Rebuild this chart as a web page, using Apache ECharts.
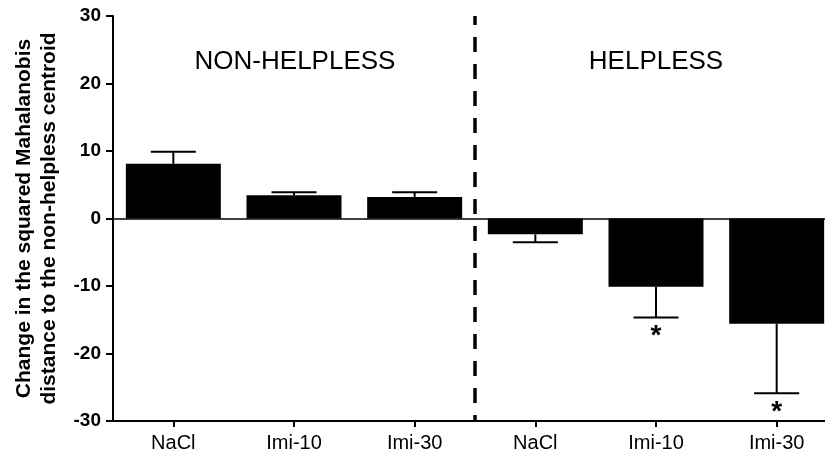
<!DOCTYPE html>
<html>
<head>
<meta charset="utf-8">
<script src="https://cdn.jsdelivr.net/npm/echarts@6/dist/echarts.min.js"></script>
<style>
html,body{margin:0;padding:0;background:#fff;}
#chart{width:825px;height:457px;}
</style>
</head>
<body>
<div id="chart"></div>
<script>
// ---- data ----
var categories = ['NaCl', 'Imi-10', 'Imi-30', 'NaCl', 'Imi-10', 'Imi-30'];
var groups = ['NON-HELPLESS', 'HELPLESS'];
var means = [8.1, 3.45, 3.2, -2.35, -10.1, -15.6];
var errEnds = [9.9, 3.9, 3.9, -3.5, -14.65, -25.9];
var significant = [false, false, false, false, true, true];
var yTicks = [-30, -20, -10, 0, 10, 20, 30];
var dividerX = 3; // boundary between the two groups, in category units

var chart = echarts.init(document.getElementById('chart'));
var FONT = 'Liberation Sans, Arial, Helvetica, sans-serif';

var errData = means.map(function (m, i) { return [i, m, errEnds[i], significant[i] ? 1 : 0]; });

chart.setOption({
  animation: false,
  backgroundColor: '#ffffff',
  grid: { left: 113, width: 724, top: 16, height: 405, containLabel: false, outerBoundsMode: 'none' },
  xAxis: [{
    type: 'category',
    data: categories,
    position: 'bottom',
    axisLine: { show: true, onZero: false, lineStyle: { color: '#000', width: 2 } },
    axisTick: { show: true, alignWithLabel: true, length: 6, lineStyle: { color: '#000', width: 2 } },
    axisLabel: { color: '#000', fontFamily: FONT, fontSize: 20, margin: 12 },
    splitLine: { show: false }
  }, {
    type: 'value',
    min: 0, max: 6,
    show: false
  }],
  yAxis: {
    type: 'value',
    min: yTicks[0], max: yTicks[yTicks.length - 1], interval: 10,
    name: 'Change in the squared Mahalanobis\ndistance to the non-helpless centroid',
    nameLocation: 'middle',
    nameGap: 51,
    nameTextStyle: { color: '#000', fontFamily: FONT, fontSize: 21, fontWeight: 'bold', lineHeight: 25 },
    axisLine: { show: true, lineStyle: { color: '#000', width: 2 } },
    axisTick: { show: true, length: 7, lineStyle: { color: '#000', width: 2 } },
    axisLabel: { color: '#000', fontFamily: FONT, fontSize: 19, fontWeight: 'bold', margin: 12 },
    splitLine: { show: false }
  },
  series: [{
    type: 'bar',
    data: means,
    barWidth: 95,
    itemStyle: { color: '#000' },
    silent: true,
    markLine: {
      silent: true,
      symbol: ['none', 'none'],
      label: { show: false },
      lineStyle: { color: '#000', width: 1.5, type: 'solid' },
      data: [{ yAxis: 0 }]
    }
  }, {
    type: 'custom',
    data: errData,
    silent: true,
    z: 5,
    renderItem: function (params, api) {
      var idx = api.value(0);
      var p0 = api.coord([idx, api.value(1)]);
      var p1 = api.coord([idx, api.value(2)]);
      var half = 22.5;
      var children = [{
        type: 'line',
        shape: { x1: p0[0], y1: p0[1], x2: p1[0], y2: p1[1] },
        style: { stroke: '#000', lineWidth: 2 }
      }, {
        type: 'line',
        shape: { x1: p1[0] - half, y1: p1[1], x2: p1[0] + half, y2: p1[1] },
        style: { stroke: '#000', lineWidth: 2 }
      }];
      if (api.value(3) === 1) {
        children.push({
          type: 'text',
          style: {
            text: '*', x: p1[0], y: p1[1] + 5,
            fill: '#000', font: 'bold 28px ' + FONT,
            align: 'center', verticalAlign: 'top'
          }
        });
      }
      return { type: 'group', children: children };
    }
  }, {
    type: 'line',
    xAxisIndex: 1,
    data: [[dividerX, yTicks[yTicks.length - 1]], [dividerX, yTicks[0]]],
    symbol: 'none',
    silent: true,
    lineStyle: { color: '#000', width: 3.5, type: [15, 12], dashOffset: 6 },
    z: 6
  }],
  graphic: [{
    type: 'text', x: 295, y: 62,
    style: { text: groups[0], fill: '#000', font: '26px ' + FONT, align: 'center', verticalAlign: 'middle' }
  }, {
    type: 'text', x: 656, y: 62,
    style: { text: groups[1], fill: '#000', font: '26px ' + FONT, align: 'center', verticalAlign: 'middle' }
  }]
});
</script>
</body>
</html>
